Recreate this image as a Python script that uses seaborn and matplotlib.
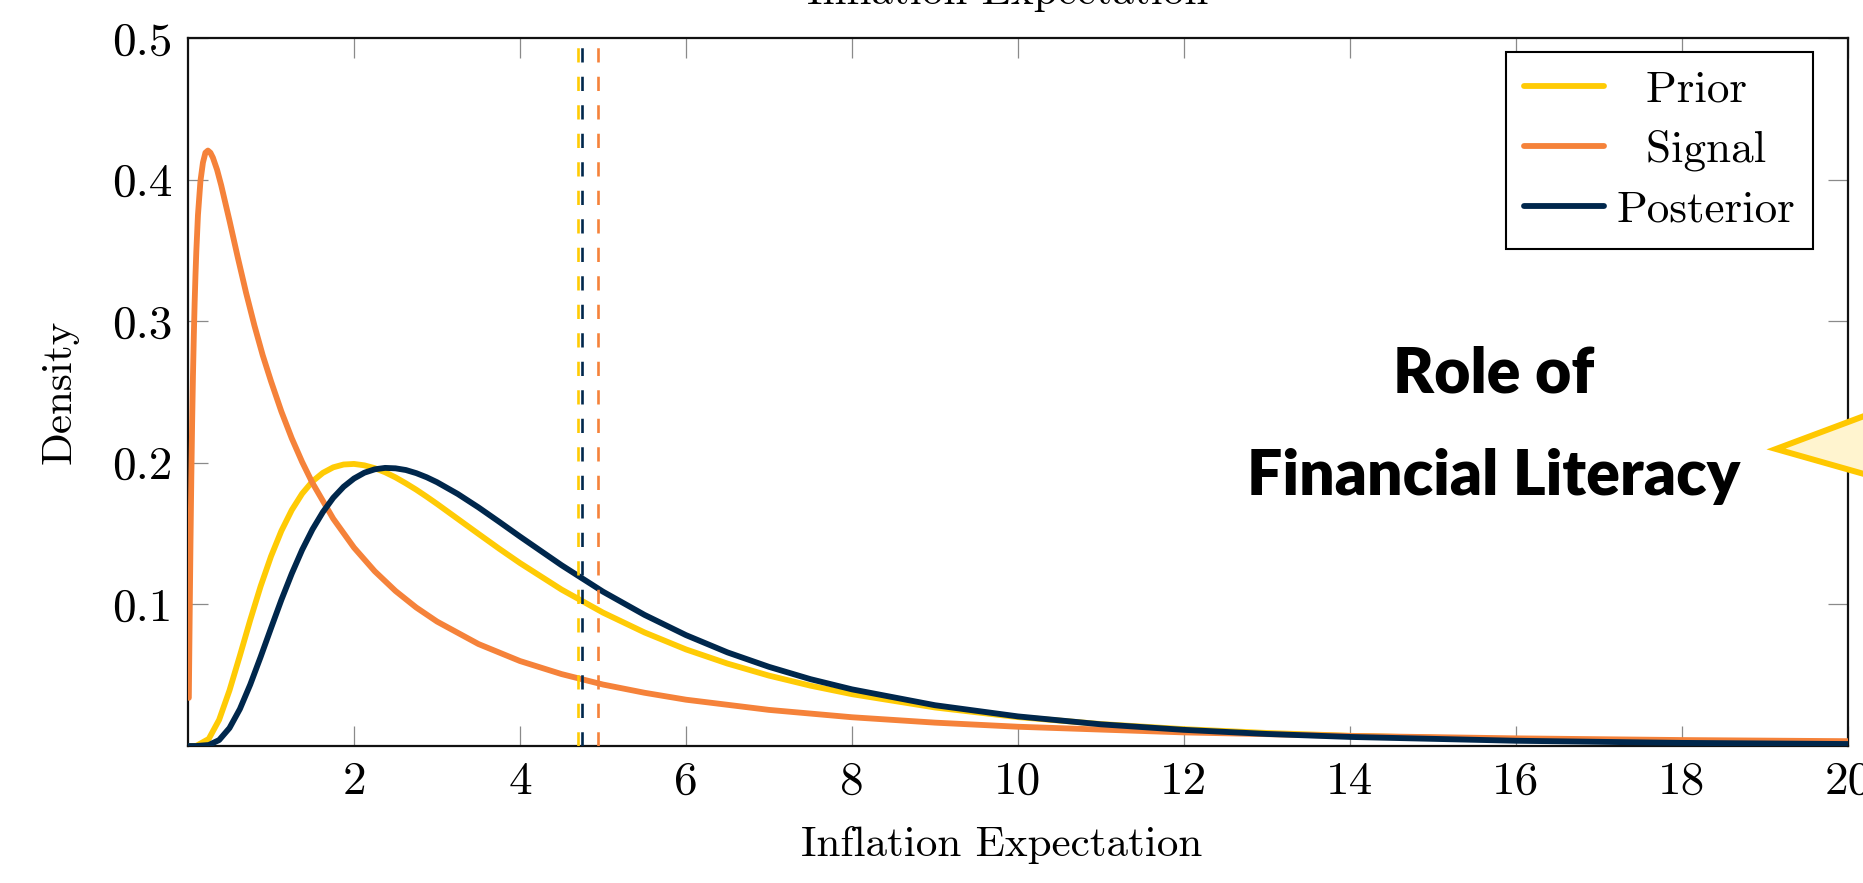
import matplotlib
matplotlib.use("Agg")
import matplotlib.pyplot as plt
import seaborn as sns
import pandas as pd
from matplotlib.patches import Polygon
from matplotlib.lines import Line2D

# ---------------- data ----------------
prior_x = [0.0, 0.1, 0.25, 0.375, 0.5, 0.625, 0.75, 0.875, 1.0, 1.125, 1.25, 1.375,
           1.5, 1.625, 1.75, 1.875, 2.0, 2.125, 2.25, 2.375, 2.5, 2.625, 2.75, 2.875,
           3.0, 3.25, 3.5, 3.75, 4.0, 4.5, 5.0, 5.5, 6.0, 6.5, 7.0, 7.5,
           8.0, 9.0, 10.0, 11.0, 12.0, 13.0, 14.0, 16.0, 18.0, 20.0]
prior_y = [0.0, 0.0001, 0.0050, 0.0185, 0.0393, 0.0638, 0.0890, 0.1128, 0.1339, 0.1519,
           0.1666, 0.1782, 0.1869, 0.1929, 0.1968, 0.1988, 0.1992, 0.1982, 0.1962, 0.1933,
           0.1897, 0.1855, 0.1810, 0.1761, 0.1710, 0.1604, 0.1498, 0.1393,
           0.1292, 0.1105, 0.0942, 0.0802, 0.0682, 0.0582, 0.0497, 0.0426, 0.0366,
           0.0272, 0.0204, 0.0155, 0.0119, 0.0092, 0.0072, 0.0045, 0.0029, 0.0019]

posterior_x = prior_x
posterior_y = [0.0, 0.0, 0.0007, 0.0042, 0.0127, 0.0261, 0.0434, 0.0629, 0.0832, 0.1032,
               0.1217, 0.1385, 0.1530, 0.1652, 0.1753, 0.1831, 0.1889, 0.1930, 0.1954, 0.1964,
               0.1961, 0.1949, 0.1927, 0.1898, 0.1863, 0.1780, 0.1685, 0.1583,
               0.1479, 0.1277, 0.1090, 0.0926, 0.0783, 0.0661, 0.0559, 0.0472, 0.0400,
               0.0288, 0.0209, 0.0153, 0.0114, 0.0085, 0.0064, 0.0037, 0.0022, 0.0014]

signal_x = [0.01, 0.02, 0.03, 0.04, 0.05, 0.06, 0.07, 0.08, 0.09, 0.10, 0.12, 0.15, 0.18,
            0.21, 0.24, 0.27, 0.30, 0.35, 0.40, 0.5, 0.6, 0.7, 0.8, 0.9, 1.0, 1.125,
            1.25, 1.375, 1.5, 1.75, 2.0, 2.25, 2.5, 2.75, 3.0, 3.5, 4.0, 4.5, 5.0, 5.5,
            6.0, 7.0, 8.0, 9.0, 10.0, 12.0, 14.0, 16.0, 18.0, 20.0]
signal_y = [0.0340, 0.0910, 0.1440, 0.1900, 0.2290, 0.2620, 0.2895, 0.3130, 0.3325,
            0.3490, 0.3750, 0.3990, 0.4120, 0.4190, 0.4205, 0.4190, 0.4155, 0.4070,
            0.3960, 0.3710, 0.3450, 0.3200, 0.2970, 0.2760, 0.2576, 0.2362, 0.2173,
            0.2006, 0.1857, 0.1605, 0.1401, 0.1234, 0.1095, 0.0978, 0.0879, 0.0720,
            0.0600, 0.0508, 0.0434, 0.0376, 0.0327, 0.0255, 0.0203, 0.0165, 0.0136,
            0.0096, 0.0071, 0.0054, 0.0042, 0.0034]

mean_labels = ["Prior", "Posterior", "Signal"]
mean_values = [4.695, 4.747, 4.936]

series_labels = ["Prior", "Signal", "Posterior"]
legend_labels = ["  Prior", "  Signal", "Posterior"]

x_ticks = [2, 4, 6, 8, 10, 12, 14, 16, 18, 20]
x_ticklabels = ["2", "4", "6", "8", "10", "12", "14", "16", "18", "20"]
y_ticks = [0.1, 0.2, 0.3, 0.4, 0.5]
y_ticklabels = ["0.1", "0.2", "0.3", "0.4", "0.5"]

colors = {"Prior": "#FFCB05", "Signal": "#F5823A", "Posterior": "#00274C"}

# ---------------- style ----------------
sns.set_style("ticks")
plt.rcParams["font.family"] = ["cmr10", "DejaVu Serif"]
plt.rcParams["mathtext.fontset"] = "cm"
plt.rcParams["axes.formatter.use_mathtext"] = True
plt.rcParams["axes.unicode_minus"] = False
plt.rcParams["text.color"] = "black"
plt.rcParams["axes.labelcolor"] = "black"

W, H = 1863, 883
fig = plt.figure(figsize=(W / 100, H / 100), dpi=100)
fig.patch.set_facecolor("white")
ax = fig.add_axes([188 / W, 137 / H, 1660 / W, 708 / H])

LW = 4.2
frames = {
    "Prior": pd.DataFrame({"x": prior_x, "y": prior_y}),
    "Signal": pd.DataFrame({"x": signal_x, "y": signal_y}),
    "Posterior": pd.DataFrame({"x": posterior_x, "y": posterior_y}),
}
for name in series_labels:
    sns.lineplot(data=frames[name], x="x", y="y", ax=ax, color=colors[name],
                 linewidth=LW, sort=False, estimator=None, zorder=3)

for name, m in zip(mean_labels, mean_values):
    ax.axvline(m, color=colors[name], linewidth=1.9, dashes=(5.4, 5.4), zorder=4)

ax.set_xlim(0, 20)
ax.set_ylim(0, 0.5)
ax.set_xticks(x_ticks)
ax.set_xticklabels(x_ticklabels)
ax.set_yticks(y_ticks)
ax.set_yticklabels(y_ticklabels)
ax.tick_params(direction="in", length=14.4, width=0.9, color="#8a8a8a",
               top=True, right=True, labelsize=34, pad=11, labelcolor="black")
for sp in ax.spines.values():
    sp.set_visible(True)
    sp.set_linewidth(1.6)
    sp.set_color("#111111")

ax.set_xlabel("Inflation Expectation", fontsize=31)
ax.xaxis.set_label_coords(0.49, -0.113)
ax.set_ylabel("Density", fontsize=31)
ax.yaxis.set_label_coords(-0.066, 0.5)

handles = [Line2D([], [], color=colors[n], linewidth=LW) for n in series_labels]
leg = ax.legend(handles, legend_labels, loc="upper right",
                bbox_to_anchor=(0.9789, 0.9802), borderaxespad=0, fontsize=32.5,
                frameon=True, fancybox=False, edgecolor="black", framealpha=1,
                handlelength=1.78, handletextpad=0.27, labelspacing=0.42,
                borderpad=0.4)
leg.get_frame().set_linewidth(1.5)
for t in leg.get_texts():
    t.set_color("black")

# cut-off title at the very top
fig.text(1008 / W, 1 - 3.5 / H, "Inflation Expectation", ha="center",
         va="baseline", fontsize=31, color="black")

# annotation text
fig.text(1494 / W, (H - 392.8) / H, "Role of", ha="center", va="baseline",
         fontsize=45, fontweight="heavy", color="black",
         family=["Lato", "DejaVu Sans"])
fig.text(1494 / W, (H - 494.6) / H, "Financial Literacy", ha="center",
         va="baseline", fontsize=45, fontweight="heavy", color="black",
         family=["Lato", "DejaVu Sans"])

# callout pointer
tip = (1776 / W, (H - 449) / H)
up = (1960 / W, (H - 449 + 0.374 * 184) / H)
lo = (1960 / W, (H - 449 - 0.284 * 184) / H)
callout = Polygon([tip, up, lo], closed=True, transform=fig.transFigure,
                  facecolor="#FFF4CF", edgecolor="#FFC800", linewidth=4.3,
                  joinstyle="miter", zorder=5)
fig.add_artist(callout)

fig.savefig("out.png", dpi=100, facecolor="white")
